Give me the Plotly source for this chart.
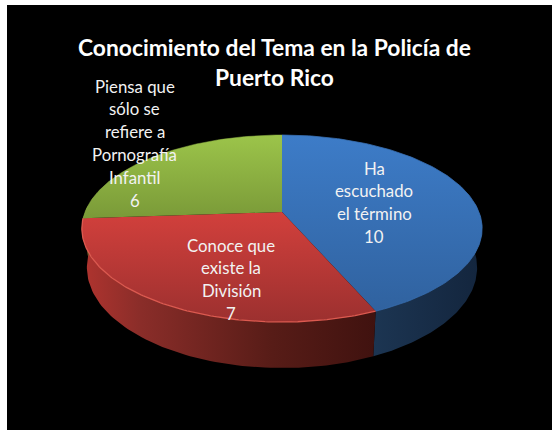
import numpy as np
import plotly.graph_objects as go

categories = ["Ha escuchado el término", "Conoce que existe la División", "Piensa que sólo se refiere a Pornografía Infantil"]
values = [10, 7, 6]
label_lines = [["Ha", "escuchado", "el término", "10"],
               ["Conoce que", "existe la", "División", "7"],
               ["Piensa que", "sólo se", "refiere a", "Pornografía", "Infantil", "6"]]
label_x = [374, 231, 134.5]
label_y = [168, 245, 86]
top_colors = [["#3d7cc8", "#30629f"], ["#d2403c", "#9c302f"], ["#9cc44a", "#7a9a38"]]
rim_colors = ["#3870b4", "#dc5a50", "#8fb244"]
rim_widths = [0.8, 1.3, 0.5]
side_colors = [[[0, "#1c3552"], [1, "#13253d"]],
               [[0, "#b0342f"], [0.2, "#8a2d29"], [0.65, "#571c17"], [1, "#40120f"]],
               [[0, "#5d7a2c"], [1, "#3f5420"]]]
title_lines = ["Conocimiento del Tema en la Policía de", "Puerto Rico"]

CX, CY = 282, 212      # apex
A, B, K = 90.6, 197, 0.1765
DEPTH = 46
FONT = "Lato"


def project(theta, lower=False):
    u, v = np.sin(theta), np.cos(theta)
    w = 1 + K * v
    if lower:
        return CX + 0.975 * B * u / w, CY - A * v / w + DEPTH * (1 - K) / w
    return CX + B * u / w, CY - A * v / w


fig = go.Figure()
fig.add_shape(type="rect", x0=7, x1=553, y0=5, y1=431, fillcolor="black", line_width=0, layer="below")

edges = np.cumsum([0] + values) / sum(values) * 2 * np.pi
front_lo = np.pi / 2 - 0.08
front_hi = 3 * np.pi / 2 + 0.08

# side walls (front-facing arc only)
for i in range(len(values)):
    a, b = max(edges[i], front_lo), min(edges[i + 1], front_hi)
    if b <= a:
        continue
    t = np.linspace(a, b, 80)
    x1, y1 = project(t)
    x2, y2 = project(t[::-1], lower=True)
    fig.add_trace(go.Scatter(
        x=np.r_[x1, x2, x1[0]], y=np.r_[y1, y2, y1[0]], mode="lines", line_width=0,
        fill="toself", hoverinfo="skip",
        fillgradient=dict(type="horizontal", colorscale=side_colors[i])))

# top face
for i in range(len(values)):
    t = np.linspace(edges[i], edges[i + 1], 140)
    x, y = project(t)
    ys = np.r_[CY, y, CY]
    fig.add_trace(go.Scatter(
        x=np.r_[CX, x, CX], y=ys, mode="lines", line_width=0,
        fill="toself", hoverinfo="skip",
        fillgradient=dict(type="vertical", start=float(ys.min()), stop=float(ys.max()),
                          colorscale=[[0, top_colors[i][0]], [1, top_colors[i][1]]])))
    fig.add_trace(go.Scatter(x=x, y=y, mode="lines", hoverinfo="skip",
                             line=dict(color=rim_colors[i], width=rim_widths[i])))

anns = []
for lines, lx, ly in zip(label_lines, label_x, label_y):
    for j, s in enumerate(lines):
        anns.append(dict(x=lx, y=ly + j * 22.8, text=s, showarrow=False, xref="x", yref="y",
                         font=dict(family=FONT, size=16.8, color="#f2f2f2")))
for j, s in enumerate(title_lines):
    anns.append(dict(x=274, y=47 + j * 30, text="<b>" + s + "</b>", showarrow=False, xref="x", yref="y",
                     font=dict(family=FONT, size=22.8, color="white")))

fig.update_layout(width=552, height=430, margin=dict(l=0, r=0, t=0, b=0), autosize=False,
                  paper_bgcolor="white", plot_bgcolor="rgba(0,0,0,0)", showlegend=False,
                  annotations=anns,
                  xaxis=dict(range=[0, 552], visible=False, fixedrange=True),
                  yaxis=dict(range=[430, 0], visible=False, fixedrange=True))
fig.write_html("out.html", config={"displayModeBar": False},
               post_script="document.body.style.margin='0';document.body.style.overflow='hidden';")
